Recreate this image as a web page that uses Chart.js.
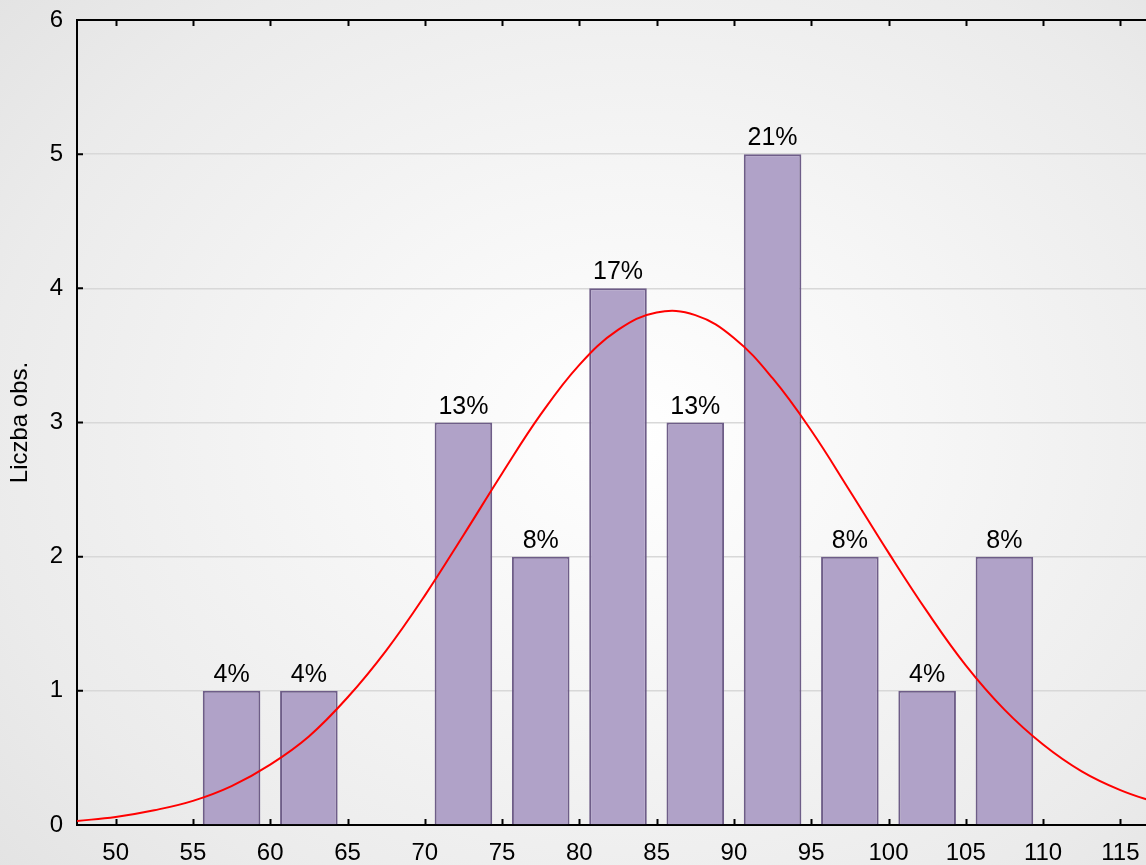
<!DOCTYPE html>
<html>
<head>
<meta charset="utf-8">
<script src="https://cdn.jsdelivr.net/npm/chart.js@4"></script>
<style>
  html, body {
    margin: 0;
    padding: 0;
    overflow: hidden;
    width: 1146px;
    height: 865px;
  }
  body {
    background: radial-gradient(ellipse 75% 80% at 55% 50%, #ffffff 0%, #f6f6f6 35%, #ebebeb 75%, #e2e2e2 100%);
  }
  #chart {
    display: block;
  }
</style>
</head>
<body>
<canvas id="chart" width="1170" height="865"></canvas>
<script>
// histogram bins (centre of each 5-wide class) and counts
const binCenters = [57.5, 62.5, 72.5, 77.5, 82.5, 87.5, 92.5, 97.5, 102.5, 107.5];
const counts = [1, 1, 3, 2, 4, 3, 5, 2, 1, 2];
const pctLabels = ["4%", "4%", "13%", "8%", "17%", "13%", "21%", "8%", "4%", "8%"];

// fitted normal curve
const curveX = [47.5, 50, 52.5, 55, 57.5, 60, 62.5, 65, 67.5, 70, 72.5, 75, 77.5, 80, 82.5, 85,
  87.5, 90, 92.5, 95, 97.5, 100, 102.5, 105, 107.5, 110, 112.5, 115, 117.5];
const curveY = [0.03, 0.06, 0.11, 0.18, 0.29, 0.45, 0.66, 0.95, 1.30, 1.71, 2.16, 2.62, 3.06, 3.43, 3.69, 3.82,
  3.80, 3.63, 3.33, 2.94, 2.49, 2.03, 1.59, 1.19, 0.86, 0.60, 0.40, 0.26, 0.16];

const yTicks = [0, 1, 2, 3, 4, 5, 6];
const xTicks = [50, 55, 60, 65, 70, 75, 80, 85, 90, 95, 100, 105, 110, 115];

const FONT = "'Liberation Sans', Arial, sans-serif";

// percent labels over the bars
const barLabels = {
  id: "barLabels",
  afterDatasetsDraw(chart) {
    const ctx = chart.ctx;
    const meta = chart.getDatasetMeta(0);
    ctx.save();
    ctx.font = "25px " + FONT;
    ctx.fillStyle = "#000";
    ctx.textAlign = "center";
    ctx.textBaseline = "alphabetic";
    meta.data.forEach((bar, i) => {
      ctx.fillText(pctLabels[i], bar.x, bar.y - 9);
    });
    ctx.restore();
  }
};

// top frame line and inward tick marks
const frame = {
  id: "frame",
  afterDraw(chart) {
    const ctx = chart.ctx;
    const area = chart.chartArea;
    const x = chart.scales.x;
    const y = chart.scales.y;
    ctx.save();
    ctx.strokeStyle = "#000";
    ctx.lineWidth = 2;
    ctx.beginPath();
    ctx.moveTo(area.left - 1, area.top);
    ctx.lineTo(area.right, area.top);
    ctx.stroke();

    ctx.beginPath();
    xTicks.forEach((v) => {
      const px = Math.round(x.getPixelForValue(v)) + 0.5;
      ctx.moveTo(px, area.bottom);
      ctx.lineTo(px, area.bottom - 6);
      ctx.moveTo(px, area.top);
      ctx.lineTo(px, area.top + 6);
    });
    yTicks.forEach((v) => {
      const py = y.getPixelForValue(v);
      ctx.moveTo(area.left, py);
      ctx.lineTo(area.left + 6, py);
    });
    ctx.stroke();
    ctx.restore();
  }
};

new Chart(document.getElementById("chart"), {
  type: "bar",
  data: {
    datasets: [
      {
        type: "bar",
        data: binCenters.map((c, i) => ({ x: c, y: counts[i] })),
        backgroundColor: "#b0a2c8",
        borderColor: "#6e5d88",
        borderWidth: 2,
        barPercentage: 0.745,
        categoryPercentage: 1,
        order: 2
      },
      {
        type: "line",
        data: curveX.map((c, i) => ({ x: c, y: curveY[i] })),
        borderColor: "#ff0000",
        borderWidth: 2,
        pointRadius: 0,
        tension: 0.4,
        fill: false,
        order: 1
      }
    ]
  },
  options: {
    responsive: false,
    animation: false,
    layout: {
      padding: { top: 20, right: 11, left: 0, bottom: 0 }
    },
    plugins: {
      legend: { display: false },
      tooltip: { enabled: false }
    },
    scales: {
      x: {
        type: "linear",
        min: 47.5,
        max: 117.5,
        offset: false,
        afterBuildTicks(scale) {
          scale.ticks = xTicks.map((v) => ({ value: v }));
        },
        afterFit(scale) {
          scale.height = 40;
          scale.paddingLeft = 0;
          scale.paddingRight = 0;
        },
        ticks: {
          autoSkip: false,
          maxRotation: 0,
          padding: 14,
          color: "#000",
          font: { family: FONT, size: 24 }
        },
        grid: { display: false, drawTicks: false, offset: false },
        border: { display: true, color: "#000", width: 2 }
      },
      y: {
        min: 0,
        max: 6,
        afterBuildTicks(scale) {
          scale.ticks = yTicks.map((v) => ({ value: v }));
        },
        afterFit(scale) {
          scale.width = 77;
          scale.paddingTop = 0;
          scale.paddingBottom = 0;
        },
        ticks: {
          padding: 14,
          color: "#000",
          font: { family: FONT, size: 24 }
        },
        grid: { color: "#d8d8d8", lineWidth: 1.5, drawTicks: false },
        border: { display: true, color: "#000", width: 2 },
        title: {
          display: true,
          text: "Liczba obs.",
          color: "#000",
          padding: { top: 6, bottom: 0 },
          font: { family: FONT, size: 24 }
        }
      }
    }
  },
  plugins: [barLabels, frame]
});
</script>
</body>
</html>
